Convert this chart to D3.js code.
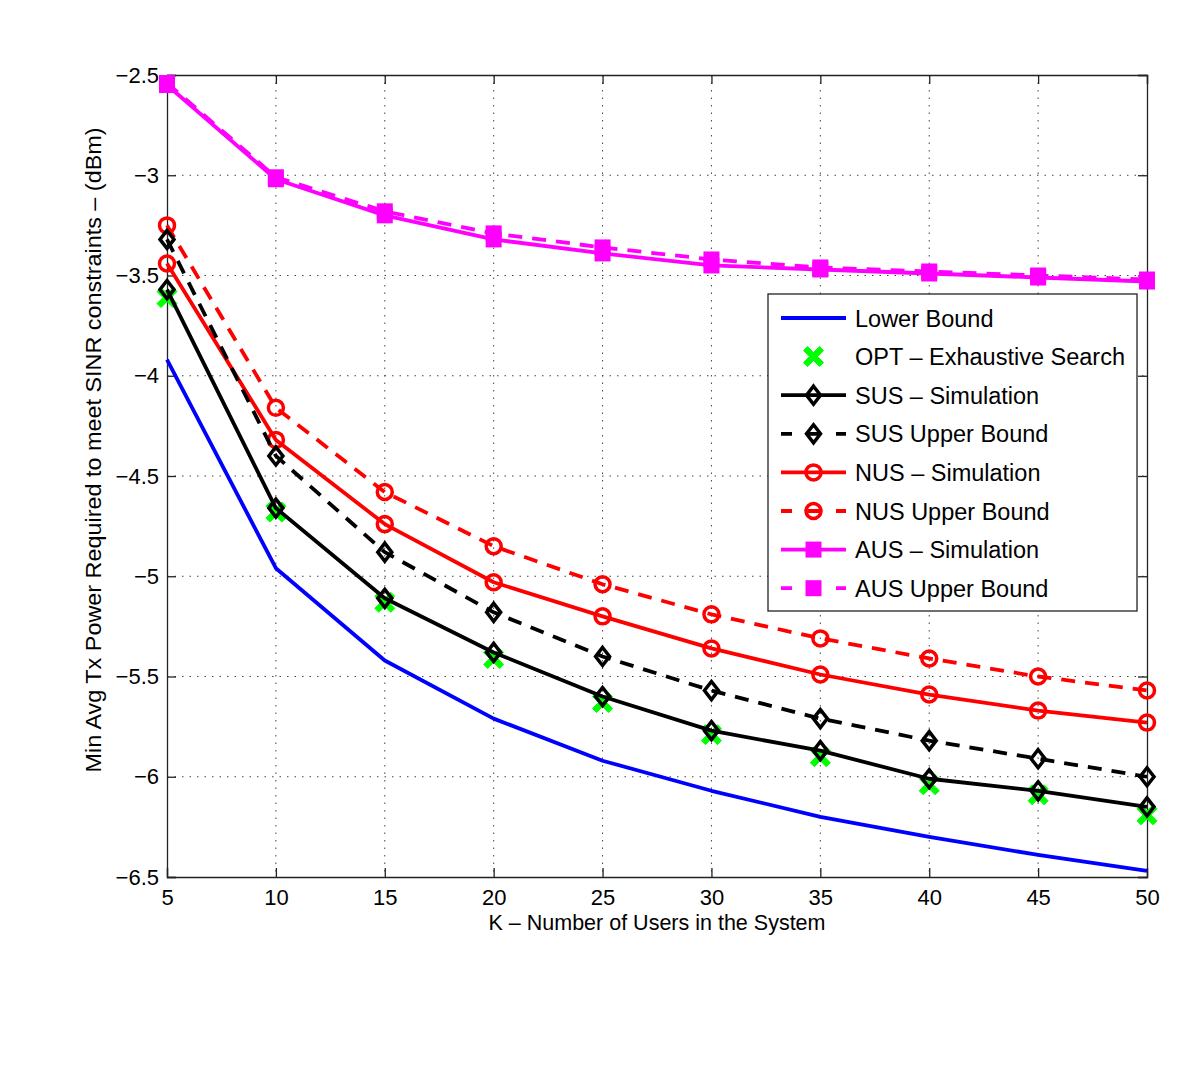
<!DOCTYPE html>
<html><head><meta charset="utf-8">
<script src="https://cdn.jsdelivr.net/npm/d3@7"></script>
<style>body{margin:0;background:#fff}svg{display:block}</style>
</head><body>
<script>
const K = [5,10,15,20,25,30,35,40,45,50];
const lowerBound = [-3.92,-4.96,-5.42,-5.71,-5.92,-6.07,-6.20,-6.30,-6.39,-6.47];
const optExhaustive = [-3.61,-4.68,-5.13,-5.41,-5.63,-5.79,-5.90,-6.04,-6.09,-6.19];
const susSim = [-3.57,-4.66,-5.11,-5.38,-5.60,-5.77,-5.87,-6.01,-6.07,-6.15];
const susUB = [-3.32,-4.40,-4.88,-5.18,-5.40,-5.57,-5.71,-5.82,-5.91,-6.00];
const nusSim = [-3.44,-4.32,-4.74,-5.03,-5.20,-5.36,-5.49,-5.59,-5.67,-5.73];
const nusUB = [-3.25,-4.16,-4.58,-4.85,-5.04,-5.19,-5.31,-5.41,-5.50,-5.57];
const ausSim = [-2.55,-3.02,-3.20,-3.32,-3.39,-3.45,-3.47,-3.49,-3.51,-3.53];
const ausUB = [-2.54,-3.01,-3.18,-3.29,-3.36,-3.42,-3.46,-3.48,-3.50,-3.52];
const xTicks = [5,10,15,20,25,30,35,40,45,50];
const yTicks = [-2.5,-3,-3.5,-4,-4.5,-5,-5.5,-6,-6.5];
const seriesNames = ["Lower Bound","OPT \u2013 Exhaustive Search","SUS \u2013 Simulation","SUS Upper Bound","NUS \u2013 Simulation","NUS Upper Bound","AUS \u2013 Simulation","AUS Upper Bound"];

const W=1200,H=1066;
const m={l:167,r:1147,t:75,b:877};
const svg=d3.select("body").append("svg").attr("width",W).attr("height",H);
const x=d3.scaleLinear().domain([5,50]).range([m.l,m.r]);
const y=d3.scaleLinear().domain([-6.5,-2.5]).range([m.b,m.t]);
const font="'Liberation Sans', Arial, Helvetica, sans-serif";

// grid
const g=svg.append("g");
g.selectAll(".gx").data(xTicks.slice(1,-1)).enter().append("line")
 .attr("x1",d=>x(d)).attr("x2",d=>x(d)).attr("y1",m.t).attr("y2",m.b)
 .attr("stroke","#444").attr("stroke-width",1).attr("stroke-dasharray","1.5,6");
g.selectAll(".gy").data(yTicks.slice(1,-1)).enter().append("line")
 .attr("y1",d=>y(d)).attr("y2",d=>y(d)).attr("x1",m.l).attr("x2",m.r)
 .attr("stroke","#444").attr("stroke-width",1).attr("stroke-dasharray","1.5,6");

// axes (ticks inside)
const axB=d3.axisBottom(x).tickValues(xTicks).tickSize(-9).tickPadding(12).tickFormat(d3.format("d"));
const axT=d3.axisTop(x).tickValues(xTicks).tickSize(-9).tickFormat("");
const axL=d3.axisLeft(y).tickValues(yTicks).tickSize(-9).tickPadding(8).tickFormat(d=>String(d).replace("-","\u2212"));
const axR=d3.axisRight(y).tickValues(yTicks).tickSize(-9).tickFormat("");
function styleAx(sel){sel.attr("font-size",null).attr("font-family",null);
 sel.select(".domain").attr("stroke","#222").attr("stroke-width",1.3);
 sel.selectAll(".tick line").attr("stroke","#222").attr("stroke-width",1.3);
 sel.selectAll("text").attr("font-family",font).style("font-size","22px").attr("fill","#000");}
svg.append("g").attr("transform",`translate(0,${m.b})`).call(axB).call(styleAx);
svg.append("g").attr("transform",`translate(0,${m.t})`).call(axT).call(styleAx);
svg.append("g").attr("transform",`translate(${m.l},0)`).call(axL).call(styleAx);
svg.append("g").attr("transform",`translate(${m.r},0)`).call(axR).call(styleAx);

// labels
svg.append("text").attr("x",657).attr("y",930).attr("text-anchor","middle")
 .attr("font-family",font).attr("font-size",21.5).text("K \u2013 Number of Users in the System");
svg.append("text").attr("transform","translate(101,450) rotate(-90)").attr("text-anchor","middle")
 .attr("font-family",font).attr("font-size",22).attr("textLength",645).attr("lengthAdjust","spacingAndGlyphs")
 .text("Min Avg Tx Power Required to meet SINR constraints \u2013 (dBm)");

const line=d3.line().x((d,i)=>x(K[i])).y(d=>y(d));
const series=[
 {v:lowerBound,c:"#0000ff",dash:null,mk:null},
 {v:optExhaustive,c:"#00ff00",dash:null,mk:"x",noLine:true},
 {v:susSim,c:"#000",dash:null,mk:"d"},
 {v:susUB,c:"#000",dash:"14,10",mk:"d"},
 {v:nusSim,c:"#ff0000",dash:null,mk:"o"},
 {v:nusUB,c:"#ff0000",dash:"14,10",mk:"o"},
 {v:ausSim,c:"#ff00ff",dash:null,mk:"s"},
 {v:ausUB,c:"#ff00ff",dash:"14,10",mk:"s"}
];
const xPath="M-10,-6 L-6,-10 L0,-4 L6,-10 L10,-6 L4,0 L10,6 L6,10 L0,4 L-6,10 L-10,6 L-4,0 Z";
function marker(sel,s,cx,cy){
 if(s.mk==="x") sel.append("path").attr("d",xPath).attr("transform",`translate(${cx},${cy})`).attr("fill",s.c).attr("stroke",s.c).attr("stroke-width",1);
 else if(s.mk==="d") sel.append("path").attr("d","M0,-9 L7,0 L0,9 L-7,0 Z").attr("transform",`translate(${cx},${cy})`)
   .attr("fill","none").attr("stroke",s.c).attr("stroke-width",3.5);
 else if(s.mk==="o") sel.append("circle").attr("cx",cx).attr("cy",cy).attr("r",7.5).attr("fill","none").attr("stroke",s.c).attr("stroke-width",3.5);
 else if(s.mk==="s") sel.append("rect").attr("x",cx-7).attr("y",cy-7).attr("width",14).attr("height",14).attr("fill",s.c).attr("stroke",s.c).attr("stroke-width",2);
}
const plot=svg.append("g");
[1,0,6,7,4,5,3,2].forEach(idx=>{
 const s=series[idx];
 const gg=plot.append("g");
 if(!s.noLine) gg.append("path").attr("d",line(s.v)).attr("fill","none").attr("stroke",s.c).attr("stroke-width",3.8)
   .attr("stroke-dasharray",s.dash).attr("stroke-linejoin","round");
 if(s.mk) s.v.forEach((v,i)=>marker(gg,s,x(K[i]),y(v)));
});

// legend
const lg=svg.append("g");
lg.append("rect").attr("x",768).attr("y",294).attr("width",369).attr("height",317).attr("fill","#fff").attr("stroke","#222").attr("stroke-width",1.3);
series.forEach((s,i)=>{
 const yy=318+i*38.6;
 if(!s.noLine) lg.append("line").attr("x1",781).attr("x2",846).attr("y1",yy).attr("y2",yy).attr("stroke",s.c).attr("stroke-width",3.8)
  .attr("stroke-dasharray",s.dash?"11,15.5,13,15.5,11":null);
 if(s.mk) marker(lg,s,813.5,yy);
 lg.append("text").attr("x",855).attr("y",yy+8.5).attr("font-family",font).attr("font-size",23.5).text(seriesNames[i]);
});
</script>
</body></html>
